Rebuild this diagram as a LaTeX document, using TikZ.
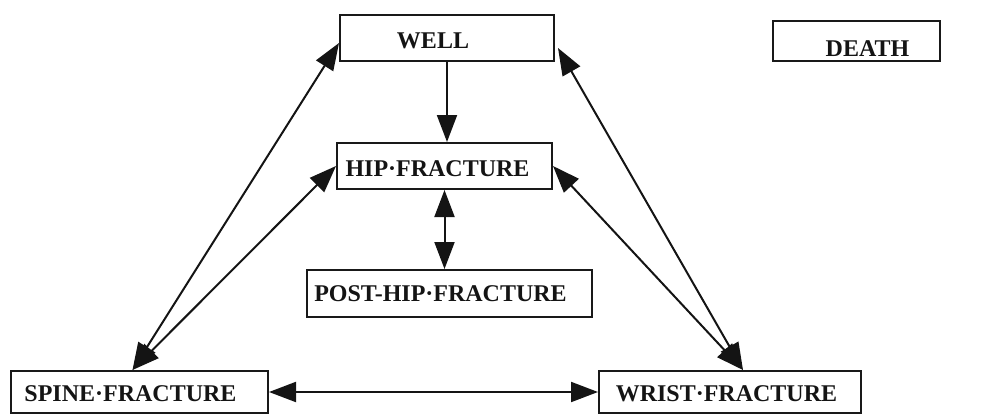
\documentclass[tikz,border=0pt]{standalone}
\usepackage{fontspec}
\setmainfont{Liberation Serif}
\usetikzlibrary{arrows.meta}
\begin{document}
\begin{tikzpicture}[x=1pt,y=-1pt,
  box/.style={draw=black!90,line width=2pt,inner sep=0pt,rectangle},
  lbl/.style={inner sep=0pt,font=\fontsize{24}{28}\selectfont\bfseries,text=black!92},
  arr/.style={line width=2pt,draw=black!92,-{Triangle[length=27pt,width=20pt]}},
  darr/.style={line width=2pt,draw=black!92,{Triangle[length=27pt,width=20pt]}-{Triangle[length=27pt,width=20pt]}}]
\useasboundingbox (0,0) rectangle (988,415);
% boxes
\node[box,minimum width=214pt,minimum height=46pt] (well) at (447,38) {};
\node[box,minimum width=215pt,minimum height=46pt] (hip) at (444.5,166) {};
\node[box,minimum width=285pt,minimum height=47pt] (post) at (449.5,293.5) {};
\node[box,minimum width=167pt,minimum height=40pt] (death) at (856.5,41) {};
\node[box,minimum width=257pt,minimum height=42pt] (spine) at (139.5,392) {};
\node[box,minimum width=262pt,minimum height=42pt] (wrist) at (730,392) {};
% labels
\node[lbl] (wellt) at (433,41) {WELL};
\node[lbl] (hipt) at (437.5,168.5) {HIP·FRACTURE};
\node[lbl] (postt) at (440.5,294) {POST-HIP·FRACTURE};
\node[lbl] (deatht) at (867.5,49) {DEATH};
\node[lbl] (spinet) at (130.5,394) {SPINE·FRACTURE};
\node[lbl] (wristt) at (726.5,393.5) {WRIST·FRACTURE};
% connectors
\draw[arr] (well.south) -- (well.south |- hip.north);
\draw[darr] (hip.south) -- (hip.south |- post.north);
\draw[darr] (spine.east) -- (wrist.west);
\draw[darr] ([xshift=-7pt]spine.north) -- ([yshift=-5pt]well.west);
\draw[darr] ([xshift=-7pt]spine.north) -- (hip.west);
\draw[darr] ([xshift=13pt]wrist.north) -- ([xshift=3pt,yshift=-10pt]well.east);
\draw[darr] ([xshift=13pt]wrist.north) -- (hip.east);
\end{tikzpicture}
\end{document}
